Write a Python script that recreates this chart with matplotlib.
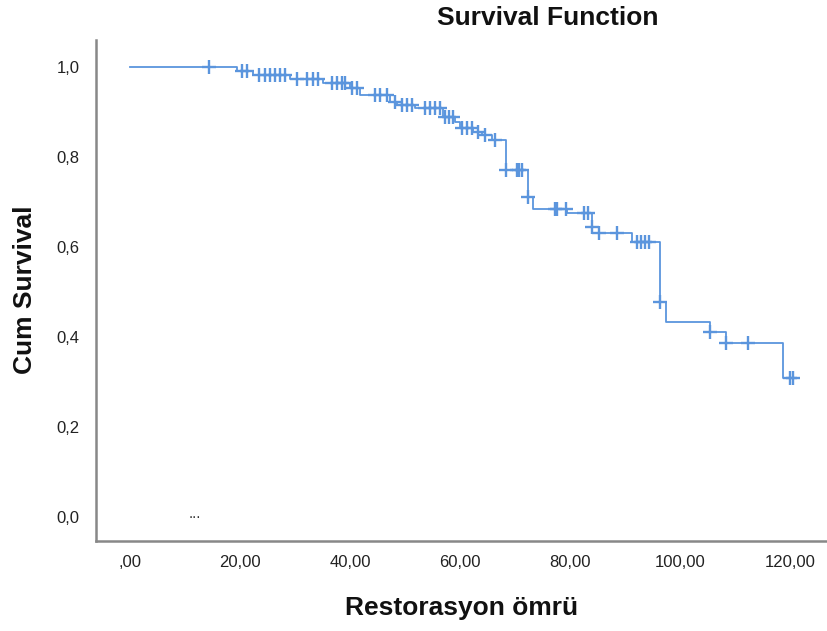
import numpy as np
import matplotlib.pyplot as plt

# Kaplan-Meier step curve
event_times = [0, 19.5, 22.4, 29.1, 35.1, 40.0, 41.8, 47.3, 48.5, 51.8, 56.9, 59.1,
               60.0, 62.4, 64.0, 65.8, 68.4, 72.4, 73.3, 79.5, 84.0, 85.3, 91.3,
               96.4, 97.5, 105.5, 108.4, 118.7]
survival = [1.0, 0.992, 0.982, 0.973, 0.964, 0.953, 0.938, 0.923, 0.916, 0.909, 0.890,
            0.878, 0.864, 0.856, 0.849, 0.838, 0.771, 0.711, 0.684, 0.676, 0.644,
            0.632, 0.611, 0.478, 0.433, 0.411, 0.387, 0.309]
censored = [14.4, 20.4, 21.3, 23.5, 24.5, 25.5, 26.4, 27.3, 28.2, 30.4, 32.2, 33.3,
            34.2, 36.7, 37.6, 38.5, 39.1, 40.4, 41.3, 44.5, 45.5, 46.7, 48.2, 49.5,
            50.4, 51.3, 53.6, 54.5, 55.5, 56.4, 57.3, 58.0, 58.7, 60.4, 61.3, 62.2,
            63.3, 64.5, 66.4, 68.4, 70.4, 70.7, 71.3, 72.4, 77.3, 77.6, 79.3, 82.5,
            83.3, 84.0, 85.3, 88.5, 92.2, 92.9, 93.6, 94.4, 96.4, 105.5, 108.4,
            112.4, 120.0, 120.5]
xticks = [0, 20, 40, 60, 80, 100, 120]
xticklabels = [',00', '20,00', '40,00', '60,00', '80,00', '100,00', '120,00']
yticks = [0.0, 0.2, 0.4, 0.6, 0.8, 1.0]
yticklabels = ['0,0', '0,2', '0,4', '0,6', '0,8', '1,0']

plt.rcParams['font.family'] = ['Liberation Sans', 'DejaVu Sans']
blue = '#5b95dd'

fig = plt.figure(figsize=(8.27, 6.31), dpi=100)
ax = fig.add_axes([96 / 827, 90 / 631, (827 - 96) / 827, (541 - 40) / 631])

t = np.array(event_times + [max(censored)])
s = np.array(survival + [survival[-1]])
ax.step(t, s, where='post', color=blue, lw=1.3)

idx = np.searchsorted(np.array(event_times), np.array(censored), side='right') - 1
cy = np.array(survival)[idx]
ax.plot(censored, cy, ls='none', marker='+', ms=10, mew=1.7, color=blue)

ax.text(11.8, 0.008, '...', fontsize=11, color='#333333', ha='center', va='center')

ax.set_xlim(-6.2, 126.7)
ax.set_ylim(-0.053, 1.06)
ax.set_xticks(xticks)
ax.set_xticklabels(xticklabels)
ax.set_yticks(yticks)
ax.set_yticklabels(yticklabels)
ax.tick_params(length=0, labelsize=12, colors='#222222')
ax.tick_params(axis='x', pad=10)
ax.tick_params(axis='y', pad=12)

for side in ['top', 'right']:
    ax.spines[side].set_visible(False)
for side in ['left', 'bottom']:
    ax.spines[side].set_color('#888888')
    ax.spines[side].set_linewidth(1.8)

fig.text(548 / 827, 1 - 18 / 631, 'Survival Function', fontsize=19, fontweight='bold',
         ha='center', va='center', color='#111111')
fig.text(462 / 827, 1 - 608 / 631, 'Restorasyon ömrü', fontsize=19, fontweight='bold',
         ha='center', va='center', color='#111111')
fig.text(25 / 827, 1 - 290 / 631, 'Cum Survival', fontsize=19, fontweight='bold',
         ha='center', va='center', rotation=90, color='#111111')

fig.savefig('out.png', dpi=100)
